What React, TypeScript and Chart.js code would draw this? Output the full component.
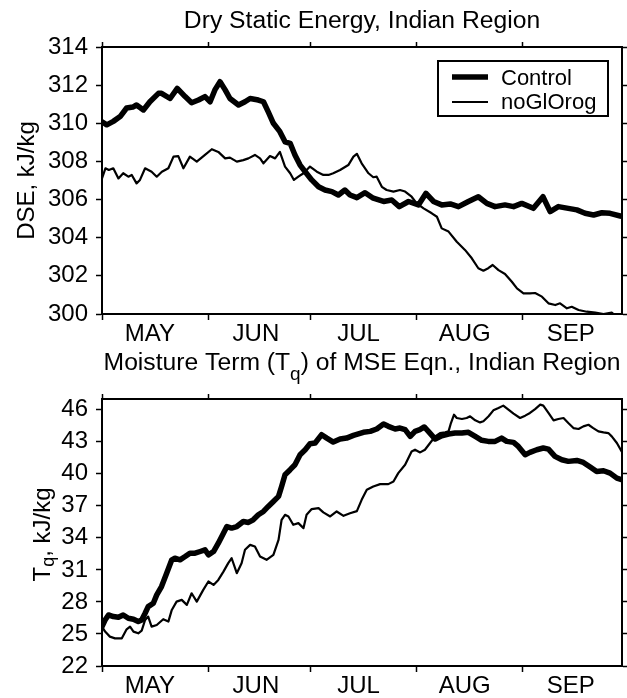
import React, { useEffect, useRef } from 'react';
import { Chart, registerables } from 'chart.js';

Chart.register(...registerables);

const FONT = "'Liberation Sans', Arial, Helvetica, sans-serif";

const monthNames = ['MAY', 'JUN', 'JUL', 'AUG', 'SEP'];
const monthStartDays = [0, 31, 61, 92, 123];
const monthLabelDays = [14, 45, 75, 106, 137];
const dayMax = 152;

const dseTicks = [300, 302, 304, 306, 308, 310, 312, 314];
const tqTicks = [22, 25, 28, 31, 34, 37, 40, 43, 46];

const seriesNames = ['Control', 'noGlOrog'];

const dseControlDays = [0, 1.4, 3.3, 5.3, 7.2, 9, 10.1, 12.1, 14, 16.5, 17.4, 19.9, 22, 24.3, 26.2, 28.2, 30.1, 31.6, 33, 34.5, 36, 37.4, 39.9, 41.8, 43.3, 45.7, 47.2, 48.6, 50.1, 52, 53.5, 55, 56.4, 57.9, 59.4, 61.3, 63.3, 65.2, 67.2, 69.1, 71, 72.5, 74.5, 76.9, 79.3, 82.3, 84.7, 86.9, 89.6, 92.5, 94.7, 96.9, 99.3, 101.8, 104.2, 107.1, 110, 112.5, 114.9, 117.8, 120.3, 122.7, 126.1, 128.9, 131, 133.4, 136.3, 138.8, 141.2, 143.7, 146.1, 148.5, 151.5, 152];
const dseControl = [310.08, 309.92, 310.1, 310.35, 310.8, 310.85, 310.96, 310.7, 311.13, 311.57, 311.57, 311.3, 311.83, 311.4, 311.08, 311.22, 311.4, 311.13, 311.75, 312.18, 311.75, 311.3, 310.96, 311.13, 311.3, 311.22, 311.13, 310.6, 310.0, 309.56, 309.03, 308.95, 308.34, 307.81, 307.46, 307.03, 306.67, 306.5, 306.42, 306.24, 306.5, 306.24, 306.1, 306.36, 306.07, 305.9, 305.98, 305.63, 305.9, 305.72, 306.33, 305.9, 305.72, 305.77, 305.63, 305.9, 306.15, 305.8, 305.63, 305.72, 305.63, 305.8, 305.54, 306.15, 305.37, 305.63, 305.54, 305.46, 305.28, 305.19, 305.31, 305.28, 305.14, 305.12];

const dseNoOrogDays = [0, 1, 2, 3.3, 4.8, 6.2, 7.7, 8.7, 10.1, 11.1, 12.6, 14.5, 16, 17.5, 19.4, 20.9, 22.3, 23.8, 25.7, 27.7, 30.1, 32.1, 34, 36, 37.4, 39.4, 41.3, 42.8, 44.7, 46.2, 47.2, 49.1, 50.6, 52, 53.5, 55, 56.1, 57.4, 58.9, 60.8, 62.8, 64.7, 66.2, 67.6, 69.6, 72, 73.5, 74.5, 75.9, 77.9, 79.3, 80.3, 81.8, 83.2, 85.2, 87.1, 88.6, 90.5, 92, 94, 96.4, 97.9, 99.3, 101.3, 103.7, 106.1, 108.1, 110, 111.5, 112.9, 114.2, 115.9, 117.8, 119.8, 121.3, 123.2, 125.1, 126.6, 128.6, 130.5, 132.5, 133.9, 135.9, 137.3, 139.3, 141.7, 144.2, 146.6, 149, 150.5];
const dseNoOrog = [307.11, 307.64, 307.55, 307.64, 307.11, 307.38, 307.2, 307.29, 306.85, 307.03, 307.64, 307.46, 307.2, 307.46, 307.64, 308.25, 308.28, 307.64, 308.25, 307.99, 308.34, 308.64, 308.5, 308.16, 308.2, 307.99, 308.07, 308.16, 308.34, 308.16, 307.9, 308.28, 308.16, 308.5, 307.73, 307.38, 307.03, 307.2, 307.38, 307.73, 307.46, 307.29, 307.29, 307.38, 307.55, 307.81, 308.25, 308.4, 307.9, 307.38, 307.17, 307.2, 306.67, 306.5, 306.42, 306.5, 306.42, 306.15, 305.8, 305.54, 305.28, 305.1, 304.49, 304.32, 303.79, 303.36, 302.92, 302.4, 302.27, 302.4, 302.57, 302.3, 302.1, 301.69, 301.34, 301.08, 301.08, 301.1, 300.91, 300.56, 300.47, 300.56, 300.3, 300.38, 300.21, 300.12, 300.07, 300.0, 300.07, 299.85];

const tqControlDays = [0, 0.9, 1.9, 3.3, 4.8, 6.2, 7.7, 9.2, 10.6, 11.6, 12.6, 13.5, 15, 16, 17.4, 18.9, 20.4, 21.3, 22.8, 24.3, 25.7, 27.2, 28.7, 30.1, 31.1, 32.6, 34, 35.5, 36.5, 37.9, 39.4, 41.3, 42.8, 44.2, 45.7, 47.2, 48.6, 50.1, 51.6, 52.5, 53.5, 55, 56.4, 57.9, 59.4, 60.8, 62.3, 64.2, 65.7, 67.6, 69.6, 71.5, 73.5, 76.4, 78.4, 80.3, 82.3, 83.7, 85.7, 87.1, 88.6, 90.1, 91.5, 92.9, 94.2, 95.4, 97.4, 99.3, 101.3, 103.2, 105.2, 107.1, 109.1, 111, 112.9, 114.9, 116.8, 118.3, 120.3, 121.7, 123.7, 125.1, 127.1, 129, 130.5, 132.4, 134.4, 136.3, 138.8, 140.7, 142.7, 144.6, 146.6, 148.5, 150.5, 151.9];
const tqControl = [25.69, 26.31, 26.78, 26.63, 26.56, 26.78, 26.47, 26.38, 26.16, 26.31, 26.94, 27.56, 27.88, 28.66, 29.44, 30.69, 31.94, 32.09, 31.94, 32.25, 32.56, 32.56, 32.72, 32.88, 32.41, 32.72, 33.5, 34.44, 35.06, 34.91, 35.06, 35.53, 35.44, 35.69, 36.16, 36.47, 36.94, 37.41, 37.88, 38.81, 39.91, 40.38, 40.84, 41.78, 42.25, 42.81, 42.88, 43.66, 43.34, 42.97, 43.25, 43.34, 43.59, 43.88, 43.97, 44.19, 44.66, 44.44, 44.19, 44.28, 44.13, 43.5, 43.97, 44.13, 44.38, 43.97, 43.25, 43.56, 43.72, 43.81, 43.81, 43.88, 43.5, 43.13, 43.03, 43.03, 43.34, 43.03, 42.94, 42.56, 41.78, 42.0, 42.25, 42.41, 42.31, 41.63, 41.31, 41.16, 41.25, 41.06, 40.63, 40.22, 40.28, 40.06, 39.59, 39.44];

const tqNoOrogDays = [0, 0.9, 2.3, 3.8, 5.8, 7.2, 8.2, 9.2, 10.6, 11.6, 12.6, 13.5, 14.5, 16, 17.9, 19.4, 20.4, 21.8, 23.3, 24.8, 26.2, 27.7, 29.6, 31.1, 32.6, 34, 35.5, 36.9, 37.9, 39.4, 40.8, 41.8, 43.3, 44.7, 46.2, 48.1, 50.1, 51.6, 52.5, 53.5, 54.5, 55.9, 57.4, 58.9, 59.8, 61.3, 63.3, 64.7, 66.7, 68.6, 70.6, 72.5, 74.5, 75.9, 77.4, 79.3, 81.3, 83.7, 85.2, 86.6, 88.6, 90.5, 91.5, 93, 94.4, 95.9, 97.4, 98.8, 100.3, 101.3, 102, 102.9, 103.7, 105.2, 106.6, 107.6, 109.1, 110.5, 111.5, 113, 114.4, 115.9, 117.3, 118.8, 120.3, 122.2, 123.7, 125.1, 126.6, 128.1, 129, 130.5, 132, 133.4, 134.9, 136.3, 137.8, 139.3, 140.7, 142.2, 143.6, 145.1, 146.6, 148, 149, 150.5, 151.9];
const tqNoOrog = [25.69, 25.22, 24.75, 24.59, 24.59, 25.44, 25.69, 25.22, 25.06, 25.31, 26.31, 26.63, 25.69, 25.84, 26.38, 26.16, 27.25, 28.03, 28.19, 27.72, 28.81, 28.03, 29.13, 29.91, 29.59, 30.06, 30.84, 31.63, 32.09, 30.69, 31.63, 32.88, 33.34, 33.19, 32.25, 31.94, 32.41, 33.81, 35.69, 36.16, 36.0, 35.22, 35.38, 34.91, 36.16, 36.69, 36.78, 36.38, 36.0, 36.47, 36.06, 36.3, 36.5, 37.56, 38.5, 38.81, 39.03, 39.03, 39.28, 40.06, 40.84, 42.09, 42.25, 42.0, 42.25, 42.88, 43.5, 43.81, 43.88, 43.97, 44.75, 45.53, 45.22, 45.13, 45.22, 45.38, 45.0, 44.81, 44.91, 45.38, 45.94, 46.16, 46.38, 46.0, 45.63, 45.22, 45.44, 45.69, 46.06, 46.47, 46.38, 45.69, 45.0, 45.13, 45.22, 44.75, 44.28, 44.19, 44.44, 44.59, 44.28, 43.97, 43.88, 43.81, 43.5, 42.88, 42.09];

const topTitle = 'Dry Static Energy, Indian Region';
const midTitleParts = ['Moisture Term (T', 'q', ') of MSE Eqn., Indian Region'];
const dseAxisTitle = 'DSE, kJ/kg';
const tqAxisParts = ['T', 'q', ', kJ/kg'];

const W = 627;
const TOP_H = 345;
const BOT_H = 353;

function pts(days: number[], vals: number[]) {
  const n = Math.min(days.length, vals.length);
  const out: { x: number; y: number }[] = [];
  for (let i = 0; i < n; i++) out.push({ x: days[i], y: vals[i] });
  return out;
}

function lineDs(label: string, data: any[], width: number) {
  return {
    label,
    data,
    borderColor: '#000',
    backgroundColor: '#000',
    borderWidth: width,
    pointRadius: 0,
    pointHoverRadius: 0,
    tension: 0,
    fill: false,
    borderJoinStyle: 'round' as const,
    borderCapStyle: 'round' as const,
  };
}

function buildScales(yMin: number, yMax: number, yTicks: number[], topH: number, bottomH: number, yTitle: string | null) {
  const border = { display: true, color: '#000', width: 2 };
  const tickFont = { family: FONT, size: 24 };
  return {
    x: {
      type: 'linear',
      position: 'bottom',
      min: 0,
      max: dayMax,
      offset: false,
      afterBuildTicks: (s: any) => {
        s.ticks = [...monthStartDays, ...monthLabelDays].sort((a, b) => a - b).map((v) => ({ value: v }));
      },
      afterFit: (s: any) => {
        s.height = bottomH;
      },
      ticks: {
        autoSkip: false,
        maxRotation: 0,
        minRotation: 0,
        padding: 0,
        color: '#000',
        font: tickFont,
        callback: (v: number) => {
          const i = monthLabelDays.indexOf(v);
          return i >= 0 ? monthNames[i] : '';
        },
      },
      grid: {
        drawOnChartArea: false,
        drawTicks: true,
        tickLength: 6,
        tickWidth: 1.5,
        tickColor: (c: any) => (c.tick && monthStartDays.includes(c.tick.value) ? '#000' : 'rgba(0,0,0,0)'),
      },
      border,
    },
    x2: {
      type: 'linear',
      position: 'top',
      min: 0,
      max: dayMax,
      afterBuildTicks: (s: any) => {
        s.ticks = monthStartDays.map((v) => ({ value: v }));
      },
      afterFit: (s: any) => {
        s.height = topH;
      },
      ticks: { display: false },
      grid: { drawOnChartArea: false, drawTicks: true, tickLength: 5, tickWidth: 1.5, tickColor: '#000' },
      border,
    },
    y: {
      type: 'linear',
      position: 'left',
      min: yMin,
      max: yMax,
      afterBuildTicks: (s: any) => {
        s.ticks = yTicks.map((v) => ({ value: v }));
      },
      afterFit: (s: any) => {
        s.width = 102;
      },
      ticks: { padding: 8, color: '#000', font: tickFont },
      grid: { drawOnChartArea: false, drawTicks: true, tickLength: 6, tickWidth: 1.5, tickColor: '#000' },
      border,
      title: yTitle
        ? { display: true, text: yTitle, color: '#000', font: { family: FONT, size: 24 }, padding: { top: 13, bottom: 0 } }
        : { display: false },
    },
    y2: {
      type: 'linear',
      position: 'right',
      min: yMin,
      max: yMax,
      afterBuildTicks: (s: any) => {
        s.ticks = yTicks.map((v) => ({ value: v }));
      },
      afterFit: (s: any) => {
        s.width = 5;
      },
      ticks: { display: false },
      grid: { drawOnChartArea: false, drawTicks: true, tickLength: 5, tickWidth: 1.5, tickColor: '#000' },
      border,
    },
  };
}

function drawRich(ctx: CanvasRenderingContext2D, parts: string[], cx: number, baseY: number, size: number, subSize: number, subShift: number) {
  const widths = parts.map((p, i) => {
    ctx.font = `${i === 1 ? subSize : size}px ${FONT}`;
    return ctx.measureText(p).width;
  });
  const total = widths.reduce((a, b) => a + b, 0);
  let x = cx - total / 2;
  ctx.textAlign = 'left';
  ctx.textBaseline = 'alphabetic';
  parts.forEach((p, i) => {
    ctx.font = `${i === 1 ? subSize : size}px ${FONT}`;
    ctx.fillText(p, x, baseY + (i === 1 ? subShift : 0));
    x += widths[i];
  });
}

const topDecor = {
  id: 'topDecor',
  afterDraw(chart: any) {
    const ctx: CanvasRenderingContext2D = chart.ctx;
    const a = chart.chartArea;
    ctx.save();
    ctx.fillStyle = '#000';
    ctx.strokeStyle = '#000';
    ctx.font = `24.7px ${FONT}`;
    ctx.textAlign = 'center';
    ctx.textBaseline = 'alphabetic';
    ctx.fillText(topTitle, (a.left + a.right) / 2, 28);

    // legend box
    const bx = a.right - 184;
    const by = a.top + 14;
    const bw = 170;
    const bh = 55;
    ctx.fillStyle = '#fff';
    ctx.fillRect(bx, by, bw, bh);
    ctx.lineWidth = 2;
    ctx.strokeRect(bx, by, bw, bh);
    ctx.lineCap = 'butt';
    ctx.lineWidth = 5.5;
    ctx.beginPath();
    ctx.moveTo(bx + 14, by + 16);
    ctx.lineTo(bx + 50, by + 16);
    ctx.stroke();
    ctx.lineWidth = 2.2;
    ctx.beginPath();
    ctx.moveTo(bx + 14, by + 41);
    ctx.lineTo(bx + 50, by + 41);
    ctx.stroke();
    ctx.fillStyle = '#000';
    ctx.font = `22px ${FONT}`;
    ctx.textAlign = 'left';
    ctx.fillText(seriesNames[0], bx + 63, by + 24);
    ctx.fillText(seriesNames[1], bx + 63, by + 48);
    ctx.restore();
  },
};

const bottomDecor = {
  id: 'bottomDecor',
  afterDraw(chart: any) {
    const ctx: CanvasRenderingContext2D = chart.ctx;
    const a = chart.chartArea;
    ctx.save();
    ctx.fillStyle = '#000';
    drawRich(ctx, midTitleParts, (a.left + a.right) / 2, 25, 24.7, 19, 10);
    ctx.translate(50, (a.top + a.bottom) / 2 + 2);
    ctx.rotate(-Math.PI / 2);
    drawRich(ctx, tqAxisParts, 0, 0, 24, 18, 4);
    ctx.restore();
  },
};

function baseOptions(scales: any) {
  return {
    responsive: false,
    maintainAspectRatio: false,
    animation: false,
    events: [],
    layout: { padding: 0, autoPadding: false },
    plugins: { legend: { display: false }, tooltip: { enabled: false }, title: { display: false } },
    scales,
  };
}

export default function App() {
  const topRef = useRef<HTMLCanvasElement>(null);
  const botRef = useRef<HTMLCanvasElement>(null);

  useEffect(() => {
    const top = new Chart(topRef.current as HTMLCanvasElement, {
      type: 'line',
      data: {
        datasets: [
          lineDs(seriesNames[1], pts(dseNoOrogDays, dseNoOrog), 2.2),
          lineDs(seriesNames[0], pts(dseControlDays, dseControl), 5.5),
        ],
      },
      options: baseOptions(buildScales(300, 314, dseTicks, 47, TOP_H - 314, dseAxisTitle)) as any,
      plugins: [topDecor],
    });
    const bot = new Chart(botRef.current as HTMLCanvasElement, {
      type: 'line',
      data: {
        datasets: [
          lineDs(seriesNames[1], pts(tqNoOrogDays, tqNoOrog), 2.2),
          lineDs(seriesNames[0], pts(tqControlDays, tqControl), 5.5),
        ],
      },
      options: baseOptions(buildScales(22, 47, tqTicks, 399 - TOP_H, BOT_H - (666 - TOP_H), null)) as any,
      plugins: [bottomDecor],
    });
    return () => {
      top.destroy();
      bot.destroy();
    };
  }, []);

  return (
    <div style={{ position: 'absolute', left: 0, top: 0, width: W, height: TOP_H + BOT_H, background: '#fff' }}>
      <canvas ref={topRef} width={W} height={TOP_H} style={{ position: 'absolute', left: 0, top: 0, display: 'block' }} />
      <canvas ref={botRef} width={W} height={BOT_H} style={{ position: 'absolute', left: 0, top: TOP_H, display: 'block' }} />
    </div>
  );
}
